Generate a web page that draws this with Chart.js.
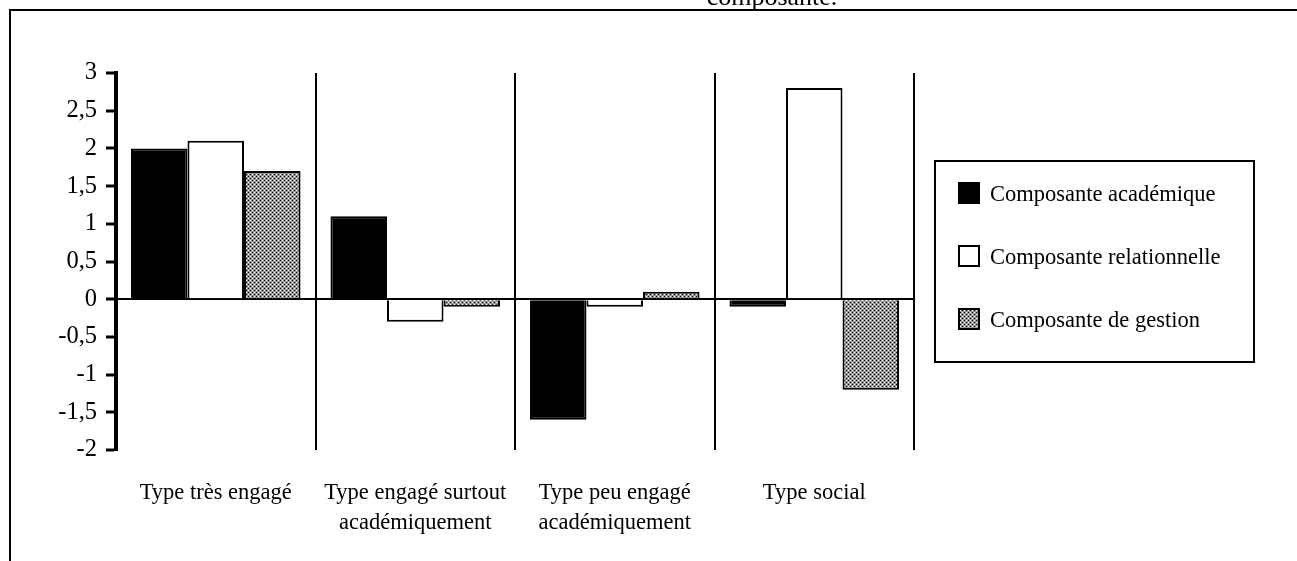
<!DOCTYPE html>
<html lang="fr">
<head>
<meta charset="utf-8">
<title>Composantes par type</title>
<script src="https://cdn.jsdelivr.net/npm/chart.js@4.4.1/dist/chart.umd.min.js"></script>
<style>
  html, body { margin: 0; padding: 0; background: #fff; }
  #wrap { width: 1297px; height: 561px; position: relative; }
</style>
</head>
<body>
<div id="wrap"><canvas id="chart"></canvas></div>
<script>
// --- Données ---
const categories = [
    'Type très engagé',
    ['Type engagé surtout', 'académiquement'],
    ['Type peu engagé', 'académiquement'],
    'Type social'
];
const seriesNames = ['Composante académique', 'Composante relationnelle', 'Composante de gestion'];
const academique = [2.0, 1.1, -1.6, -0.1];
const relationnelle = [2.1, -0.3, -0.1, 2.8];
const gestion = [1.7, -0.1, 0.1, -1.2];
const yTicks = [3, 2.5, 2, 1.5, 1, 0.5, 0, -0.5, -1, -1.5, -2];
const titleText = 'composante.';

const FONT = 'Liberation Serif';

// motif pointillé gris (trame) pour la composante de gestion
function makeDots() {
    const c = document.createElement('canvas');
    c.width = 4; c.height = 4;
    const g = c.getContext('2d');
    g.fillStyle = '#979797'; g.fillRect(0, 0, 4, 4);
    g.fillStyle = '#000'; g.fillRect(0, 0, 1, 1); g.fillRect(2, 2, 1, 1);
    g.fillStyle = '#fff'; g.fillRect(2, 0, 1, 1); g.fillRect(0, 2, 1, 1);
    return g.createPattern(c, 'repeat');
}
const dots = makeDots();

// cadre + bout de titre coupé en haut
const framePlugin = {
    id: 'frame',
    afterDraw(chart) {
        const ctx = chart.ctx;
        ctx.save();
        ctx.strokeStyle = '#000';
        ctx.lineWidth = 2;
        ctx.beginPath();
        ctx.moveTo(10, chart.height);
        ctx.lineTo(10, 10);
        ctx.lineTo(chart.width, 10);
        ctx.stroke();
        ctx.fillStyle = '#000';
        ctx.font = `26px "${FONT}"`;
        ctx.textAlign = 'center';
        ctx.textBaseline = 'alphabetic';
        ctx.fillText(titleText, 772, 5);
        ctx.restore();
    }
};

// légende encadrée à droite
const boxLegend = {
    id: 'boxLegend',
    afterDraw(chart) {
        const ctx = chart.ctx;
        const area = chart.chartArea;
        const left = area.right + 21, top = area.top + 88;
        const w = 319, h = 201;
        ctx.save();
        ctx.fillStyle = '#fff';
        ctx.fillRect(left, top, w, h);
        ctx.strokeStyle = '#000';
        ctx.lineWidth = 2;
        ctx.strokeRect(left, top, w, h);
        ctx.font = `22.5px "${FONT}"`;
        ctx.textBaseline = 'middle';
        ctx.textAlign = 'left';
        chart.data.datasets.forEach((ds, i) => {
            const cy = top + 32 + i * 63;
            ctx.fillStyle = ds.backgroundColor;
            ctx.fillRect(left + 23, cy - 11, 22, 22);
            ctx.lineWidth = 2;
            ctx.strokeRect(left + 24, cy - 10, 20, 20);
            ctx.fillStyle = '#000';
            ctx.fillText(ds.label, left + 55, cy + 2);
        });
        ctx.restore();
    }
};

const ctx = document.getElementById('chart').getContext('2d');
const chart = new Chart(ctx, {
    type: 'bar',
    data: {
        labels: categories,
        datasets: [
            { label: seriesNames[0], data: academique, backgroundColor: '#000' },
            { label: seriesNames[1], data: relationnelle, backgroundColor: '#fff' },
            { label: seriesNames[2], data: gestion, backgroundColor: dots }
        ].map(d => Object.assign(d, {
            borderColor: '#000',
            borderWidth: 2,
            categoryPercentage: 0.85,
            barPercentage: 1.0
        }))
    },
    options: {
        responsive: true,
        maintainAspectRatio: false,
        animation: false,
        layout: { padding: { top: 73, right: 383, bottom: 0, left: 0 } },
        scales: {
            y: {
                min: -2,
                max: 3,
                afterFit: (scale) => { scale.width = 116; },
                afterBuildTicks: (scale) => { scale.ticks = yTicks.map(v => ({ value: v })); },
                ticks: {
                    color: '#000',
                    padding: 9,
                    font: { family: FONT, size: 24.5 },
                    callback: (v) => String(v).replace('.', ',')
                },
                grid: {
                    color: (c) => (c.tick && c.tick.value === 0 ? '#000' : 'rgba(0,0,0,0)'),
                    lineWidth: 2,
                    tickColor: '#000',
                    tickWidth: 3,
                    tickLength: 10
                },
                border: { display: true, color: '#000', width: 4 }
            },
            x: {
                afterFit: (scale) => { scale.height = 111; },
                ticks: {
                    color: '#000',
                    padding: 28,
                    maxRotation: 0,
                    font: { family: FONT, size: 22.5, lineHeight: 1.33 }
                },
                grid: { offset: true, color: '#000', lineWidth: 2, drawTicks: false },
                border: { display: false }
            }
        },
        plugins: {
            legend: { display: false },
            tooltip: { enabled: false }
        }
    },
    plugins: [framePlugin, boxLegend]
});
</script>
</body>
</html>
